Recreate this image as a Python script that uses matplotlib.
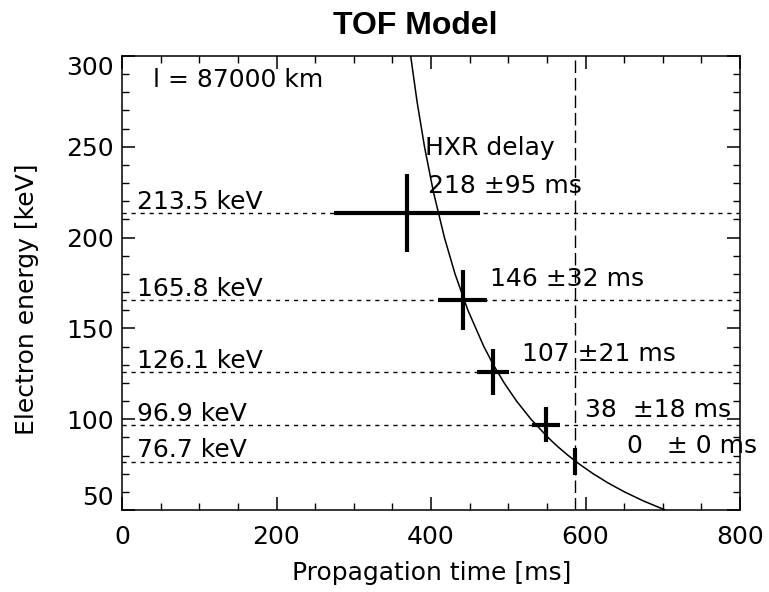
import matplotlib
matplotlib.use("Agg")
import matplotlib.pyplot as plt

plt.rcParams['font.family'] = ['DejaVu Sans']

# TOF model curve (energy keV, time ms)
curve_e = [50, 55, 60, 65, 70, 75, 80, 85, 90, 100, 110, 120, 130, 140, 160, 180,
           200, 225, 250, 275, 300, 320]
curve_t = [703.2, 674.9, 650.3, 628.8, 609.8, 592.9, 577.6, 563.8, 551.3, 529.4,
           510.7, 494.7, 480.7, 468.4, 447.8, 431.1, 417.4, 403.2, 391.6, 381.9,
           373.7, 367.8]

# measured points
energy = [213.5, 165.8, 126.1, 96.9, 76.7]
energy_err = [21.4, 16.6, 12.6, 9.7, 7.7]
delay = [218, 146, 107, 38, 0]
delay_err = [95, 32, 21, 18, 0]
t_ref = 587  # propagation time of the lowest energy

energy_labels = ['213.5 keV', '165.8 keV', '126.1 keV', '96.9 keV', '76.7 keV']
delay_labels = ['218 ±95 ms', '146 ±32 ms', '107 ±21 ms', '38  ±18 ms', '0   ± 0 ms']
delay_label_t = [396, 476, 518, 599, 654]
delay_label_e = [224.6, 173.5, 132.2, 101.4, 81.2]

xticks = [0, 200, 400, 600, 800]
yticks = [50, 100, 150, 200, 250, 300]

fig = plt.figure(figsize=(7.69, 5.92), dpi=100)
ax = fig.add_axes([122/769, 1 - 510/592, (740-122)/769, (510-56)/592])

ax.plot(curve_t, curve_e, color='black', lw=1.1)

for e in energy:
    ax.axhline(e, color='black', ls=(0, (3, 3.5)), lw=1.0)
ax.axvline(t_ref, color='black', ls=(0, (9, 3.6)), lw=1.0)

times = [t_ref - d for d in delay]
for t, e, xe, ye in zip(times, energy, delay_err, energy_err):
    ax.plot([t - xe, t + xe], [e, e], color='black', lw=3, solid_capstyle='butt')
    ax.plot([t, t], [e - ye, e + ye], color='black', lw=3, solid_capstyle='butt')

fs = 18
for e, lab in zip(energy, energy_labels):
    ax.text(19, e + 2.3, lab, fontsize=fs, ha='left', va='baseline')

for t, e, lab in zip(delay_label_t, delay_label_e, delay_labels):
    ax.text(t, e, lab, fontsize=fs, ha='left', va='baseline')
ax.text(392, 245.5, 'HXR delay', fontsize=fs, ha='left', va='baseline')
ax.text(40, 283, 'l = 87000 km', fontsize=fs, ha='left', va='baseline')

ax.set_xlim(0, 800)
ax.set_ylim(50, 300)
ax.set_xticks(xticks)
ax.set_xticks(range(0, 801, 50), minor=True)
ax.set_yticks(yticks)
ax.set_yticks(range(50, 301, 10), minor=True)
ax.tick_params(which='both', direction='in', top=True, right=True, labelsize=fs)
ax.tick_params(which='major', length=9.5, width=1.1)
ax.tick_params(which='minor', length=5, width=1.0)
ax.tick_params(axis='x', pad=11)
ax.tick_params(axis='y', pad=6)
ylabs = ax.get_yticklabels()
ylabs[0].set_va('bottom')
ylabs[-1].set_va('top')
for s in ax.spines.values():
    s.set_linewidth(1.1)

fig.text(432/769, 1 - 573/592, 'Propagation time [ms]', fontsize=fs, ha='center', va='center')
fig.text(27/769, 1 - 299/592, 'Electron energy [keV]', fontsize=fs, ha='center', va='center',
         rotation=90)
fig.text(415/769, 1 - 26/592, 'TOF Model', fontsize=23, fontweight='bold',
         family='Liberation Sans', ha='center', va='center')

fig.savefig('out.png', dpi=100)
